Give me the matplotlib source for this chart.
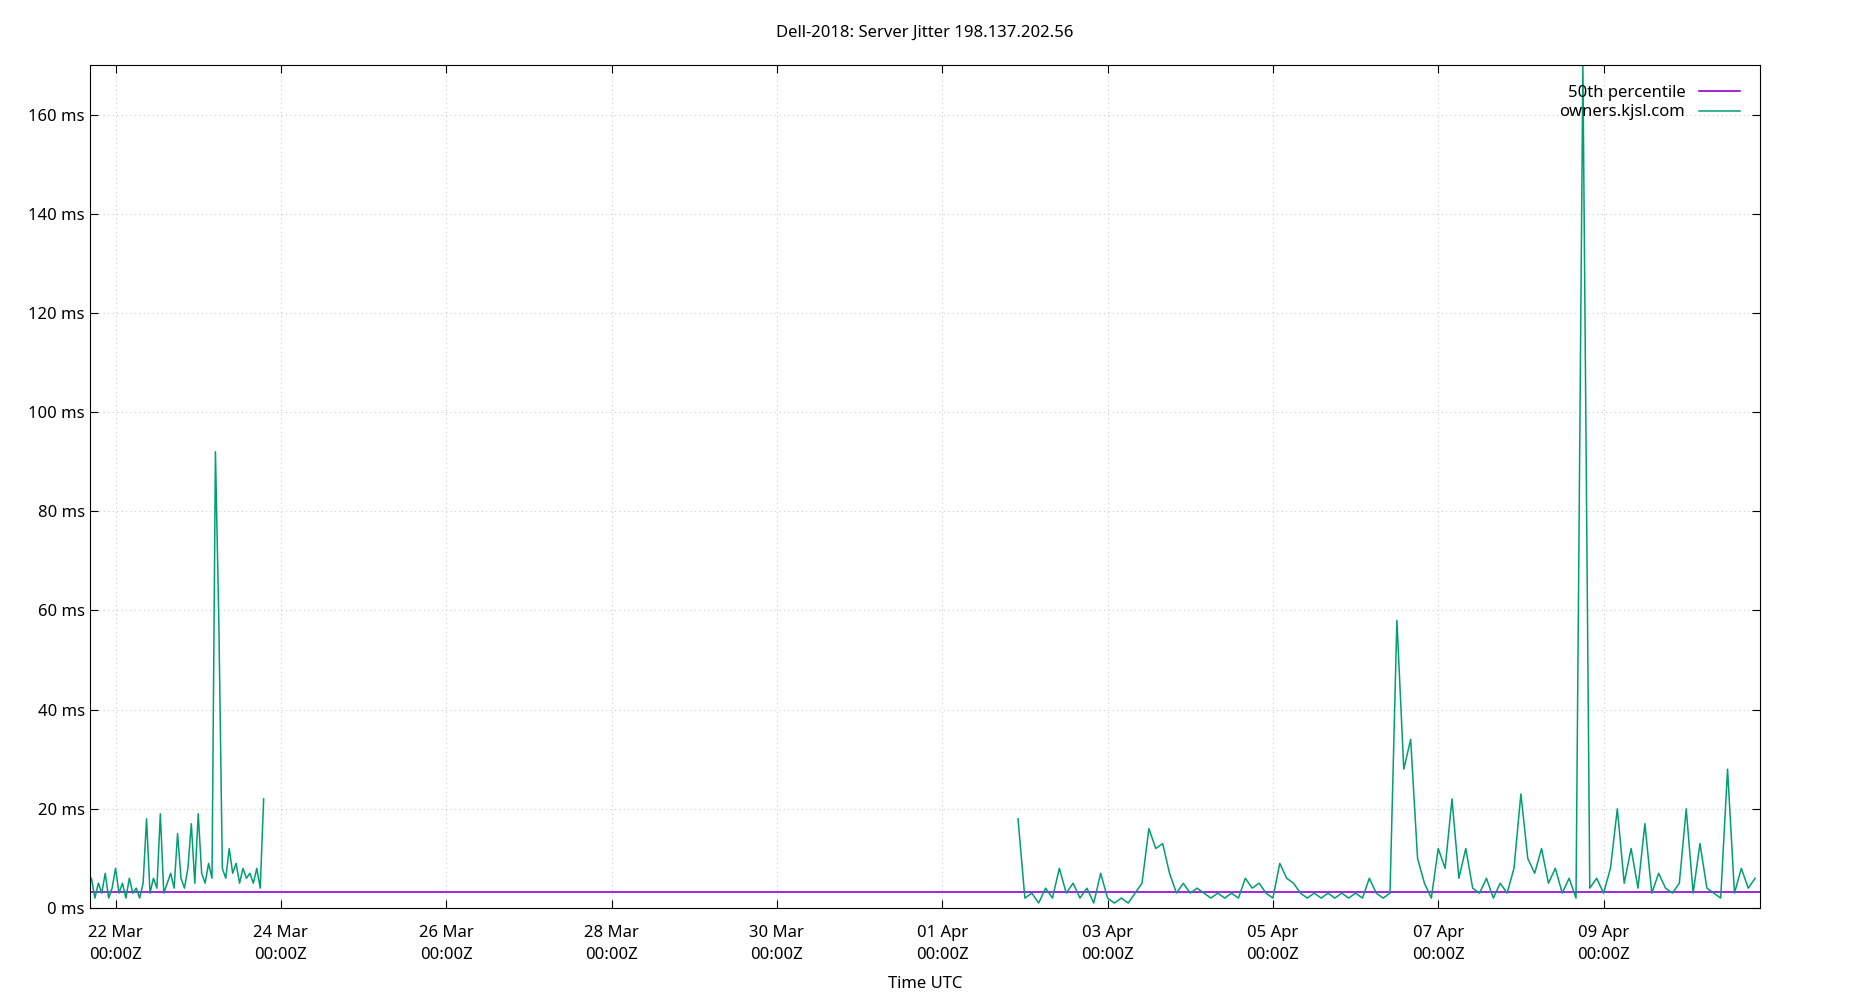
import numpy as np
import matplotlib.pyplot as plt
from datetime import datetime, timedelta

plt.rcParams['font.family'] = ['Noto Sans', 'DejaVu Sans']

base = datetime(2018, 3, 22)

# hours since 22 Mar 00:00Z, segment before the gap (hourly)
seg1_start = -7
seg1_vals = [6, 2, 5, 3, 7, 2, 4, 8, 3, 5, 2, 6, 3, 4, 2, 5, 18, 3, 6, 4,
             19, 3, 5, 7, 4, 15, 6, 4, 8, 17, 5, 19, 7, 5, 9, 6, 92, 57, 8, 6,
             12, 7, 9, 5, 8, 6, 7, 5, 8, 4, 22]

# segment after the gap (every 2 h)
seg2_start = 262
seg2_vals = [18, 2, 3, 1, 4, 2, 8, 3, 5, 2, 4, 1, 7, 2, 1, 2, 1, 3, 5, 16,
             12, 13, 7, 3, 5, 3, 4, 3, 2, 3, 2, 3, 2, 6, 4, 5, 3, 2, 9, 6,
             5, 3, 2, 3, 2, 3, 2, 3, 2, 3, 2, 6, 3, 2, 3, 58, 28, 34, 10, 5,
             2, 12, 8, 22, 6, 12, 4, 3, 6, 2, 5, 3, 8, 23, 10, 7, 12, 5, 8, 3,
             6, 2, 170, 4, 6, 3, 8, 20, 5, 12, 4, 17, 3, 7, 4, 3, 5, 20, 3, 13,
             4, 3, 2, 28, 3, 8, 4, 6]

median_ms = 3.3

t1 = [base + timedelta(hours=seg1_start + i) for i in range(len(seg1_vals))]
t2 = [base + timedelta(hours=seg2_start + 2 * i) for i in range(len(seg2_vals))]

x0 = base - timedelta(hours=7.5)
x1 = base + timedelta(hours=477.5)

fig = plt.figure(figsize=(18.5, 10), dpi=100)
ax = fig.add_axes([0.0485, 0.092, 0.903, 0.843])

green = '#009e73'
ax.plot([x0, x1], [median_ms, median_ms], color='#9400d3', lw=1.2, label='50th percentile')
ax.plot(t1, seg1_vals, color=green, lw=1.1, label='owners.kjsl.com')
ax.plot(t2, seg2_vals, color=green, lw=1.1)

ax.set_xlim(x0, x1)
ax.set_ylim(0, 170)
ax.set_yticks(range(0, 170, 20))
ax.set_yticklabels([f'{v} ms' for v in range(0, 170, 20)])
ticks = [base + timedelta(days=2 * i) for i in range(10)]
ax.set_xticks(ticks)
ax.set_xticklabels([d.strftime('%d %b\n%H:%MZ') for d in ticks], linespacing=1.5)
ax.tick_params(direction='in', top=True, right=True, labelsize=12, length=6)
ax.tick_params(axis='x', pad=12)
ax.grid(True, color='#cccccc', linestyle=(0, (1, 3)), lw=0.8)

fig.text(0.5, 0.016, 'Time UTC', ha='center', va='center', fontsize=12)
fig.text(0.5, 0.967, 'Dell-2018: Server Jitter 198.137.202.56', ha='center', va='center', fontsize=12)

ax.legend(loc='upper right', frameon=False, fontsize=12, markerfirst=False,
          handlelength=2.5, borderaxespad=0.8, labelspacing=0.2)

fig.savefig('out.png')
